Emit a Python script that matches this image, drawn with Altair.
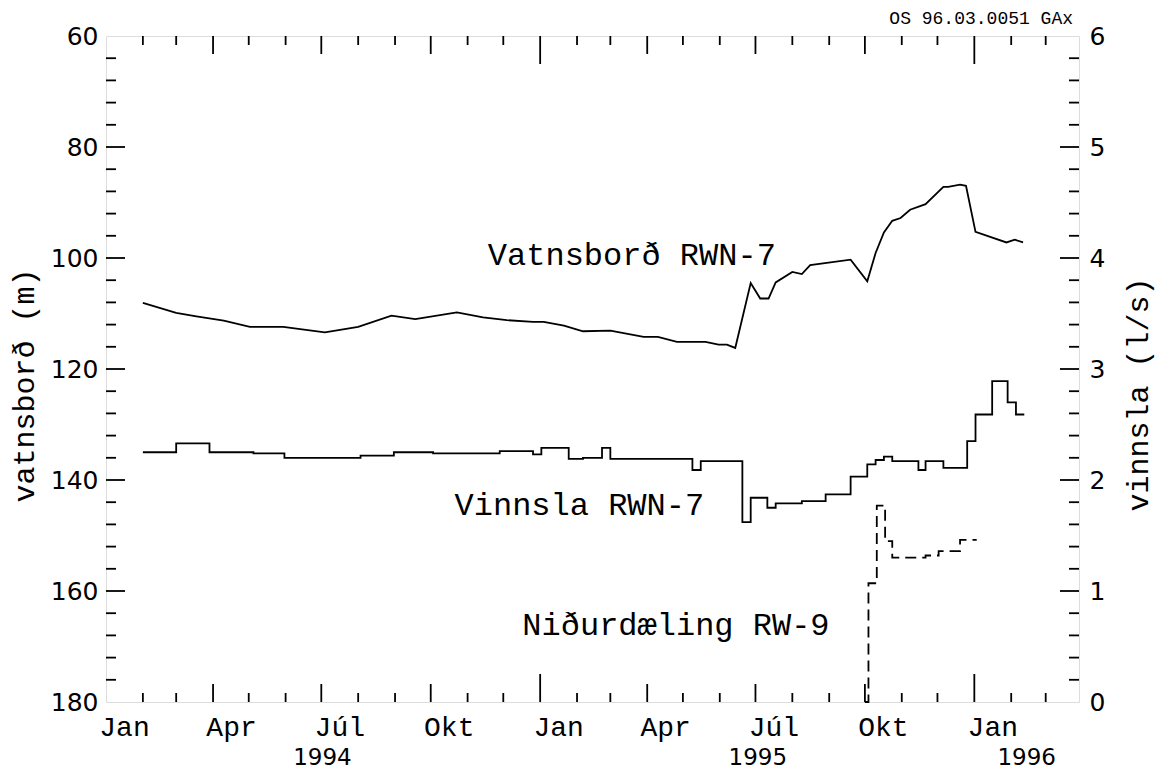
import altair as alt
import pandas as pd

# ---------------- data ----------------
# Vatnsborð RWN-7 (m, left axis)
vb_dates = ["1994-02-01", "1994-03-01", "1994-03-18", "1994-04-10", "1994-05-02", "1994-05-30",
            "1994-07-04", "1994-08-01", "1994-08-29", "1994-09-18", "1994-10-23", "1994-11-14",
            "1994-12-04", "1994-12-26", "1995-01-04", "1995-01-21", "1995-02-06", "1995-03-01",
            "1995-03-29", "1995-04-10", "1995-04-26", "1995-05-20", "1995-05-31", "1995-06-07",
            "1995-06-14", "1995-06-27", "1995-07-05", "1995-07-12", "1995-07-18", "1995-08-01",
            "1995-08-09", "1995-08-16", "1995-09-19", "1995-10-03", "1995-10-10", "1995-10-17",
            "1995-10-24", "1995-10-31", "1995-11-08", "1995-11-21", "1995-12-06", "1995-12-10",
            "1995-12-20", "1995-12-25", "1996-01-02", "1996-01-28", "1996-02-04", "1996-02-11"]
vb_values = [108.1, 109.9, 110.5, 111.3, 112.4, 112.4, 113.4, 112.4, 110.4, 111.0, 109.8, 110.7,
             111.2, 111.5, 111.5, 112.2, 113.2, 113.1, 114.2, 114.2, 115.1, 115.1, 115.6, 115.6,
             116.2, 104.5, 107.3, 107.3, 104.4, 102.5, 102.9, 101.3, 100.3, 104.2, 99.1, 95.4,
             93.3, 92.8, 91.3, 90.3, 87.2, 87.2, 86.8, 87.0, 95.3, 97.2, 96.7, 97.2]

# Vinnsla RWN-7 (l/s, right axis, steps)
vi_dates = ["1994-02-01", "1994-03-01", "1994-03-29", "1994-05-05", "1994-05-31", "1994-08-03",
            "1994-08-31", "1994-10-03", "1994-11-28", "1994-12-26", "1995-01-02", "1995-01-25",
            "1995-02-06", "1995-02-22", "1995-03-01", "1995-05-09", "1995-05-16", "1995-06-20",
            "1995-06-27", "1995-07-11", "1995-07-18", "1995-08-09", "1995-08-29", "1995-09-19",
            "1995-10-03", "1995-10-10", "1995-10-17", "1995-10-24", "1995-11-15", "1995-11-21",
            "1995-12-06", "1995-12-26", "1996-01-02", "1996-01-16", "1996-01-29", "1996-02-05",
            "1996-02-12"]
vi_values = [2.25, 2.33, 2.25, 2.24, 2.20, 2.22, 2.25, 2.24, 2.26, 2.23, 2.29, 2.19,
             2.20, 2.29, 2.19, 2.09, 2.17, 1.62, 1.84, 1.75, 1.79, 1.81, 1.87, 2.03,
             2.14, 2.18, 2.21, 2.17, 2.09, 2.17, 2.11, 2.35, 2.59, 2.89, 2.70, 2.59,
             2.59]

# Niðurdæling RW-9 (l/s, right axis, dashed steps)
nd_dates = ["1995-10-01", "1995-10-04", "1995-10-11", "1995-10-18", "1995-10-24",
            "1995-11-21", "1995-12-02", "1995-12-20", "1996-01-03"]
nd_values = [0.0, 1.07, 1.77, 1.45, 1.30, 1.32, 1.36, 1.46, 1.46]

# labels
month_names = ["Jan", "Apr", "Júl", "Okt"]
year_labels = ["1994", "1995", "1996"]
year_label_dates = ["1994-07-02", "1995-07-03", "1996-02-14"]
left_ticks = [60, 80, 100, 120, 140, 160, 180]
right_ticks = [0, 1, 2, 3, 4, 5, 6]
annot_text = ["Vatnsborð RWN-7", "Vinnsla RWN-7", "Niðurdæling RW-9"]
annot_dates = ["1994-11-18", "1994-10-21", "1994-12-17"]
annot_values = [101.3, 146.3, 167.9]
header = ["OS 96.03.0051 GAx"]

# ---------------- tables ----------------
df_vb = pd.DataFrame({"date": pd.to_datetime(vb_dates), "v": vb_values})
df_vi = pd.DataFrame({"date": pd.to_datetime(vi_dates), "w": vi_values})
df_nd = pd.DataFrame({"date": pd.to_datetime(nd_dates), "w": nd_values})
df_ann = pd.DataFrame({"date": pd.to_datetime(annot_dates), "v": annot_values, "t": annot_text})
df_year = pd.DataFrame({"date": pd.to_datetime(year_label_dates), "t": year_labels})
df_head = pd.DataFrame({"t": header})

months = pd.date_range("1994-02-01", "1996-03-01", freq="MS")
df_tick_year = pd.DataFrame({"date": [d for d in months if d.month == 1]})
df_tick_q = pd.DataFrame({"date": [d for d in months if d.month in (4, 7, 10)]})
df_tick_m = pd.DataFrame({"date": [d for d in months if d.month not in (1, 4, 7, 10)]})

df_lmaj = pd.DataFrame({"v": left_ticks[1:-1]})
df_lmin = pd.DataFrame({"v": [x for x in range(64, 180, 4) if x % 20]})
df_rmaj = pd.DataFrame({"w": right_ticks[1:-1]})
df_rmin = pd.DataFrame({"w": [round(i * 0.2, 1) for i in range(1, 30) if i % 5]})

# ---------------- layout ----------------
W, H = 973, 666
MONO = "Liberation Mono"
SANS = "DejaVu Sans"

xscale = alt.Scale(domain=[alt.DateTime(year=1994, month=1, date=1),
                           alt.DateTime(year=1996, month=3, date=29)])
quarters = [alt.DateTime(year=y, month=m, date=1)
            for y in (1994, 1995) for m in (1, 4, 7, 10)] + [alt.DateTime(year=1996, month=1, date=1)]
label_expr = "['" + "','".join(month_names) + "'][floor(month(datum.value)/3)]"
xaxis = alt.Axis(values=quarters, labelExpr=label_expr, labelOffset=18, labelPadding=33,
                 labelBaseline="alphabetic", labelFont=MONO, labelFontSize=28,
                 labelColor="black", ticks=False, tickSize=0, domain=False, grid=False,
                 labelFlush=False, labelOverlap=False, title=None)
X = alt.X("date:T", scale=xscale, axis=xaxis)

left_axis = alt.Axis(orient="left", values=left_ticks, labelFont=SANS, labelFontSize=25,
                     labelColor="black", labelPadding=8, ticks=False, tickSize=0,
                     domain=False, grid=False, labelFlush=False,
                     title="vatnsborð (m)", titleFont=MONO, titleFontSize=30,
                     titleFontWeight="normal", titleColor="black", titleAngle=270,
                     titleX=-82, titleY=349, titleAlign="center", titleBaseline="middle")
right_axis = alt.Axis(orient="right", values=right_ticks, labelFont=SANS, labelFontSize=25,
                      labelColor="black", labelPadding=10, ticks=False, tickSize=0,
                      domain=False, grid=False, labelFlush=False,
                      title="vinnsla (l/s)", titleFont=MONO, titleFontSize=30,
                      titleFontWeight="normal", titleColor="black", titleAngle=270,
                      titleX=59, titleY=358, titleAlign="center", titleBaseline="middle")

YL = alt.Y("v:Q", scale=alt.Scale(domain=[60, 180], reverse=True, nice=False, zero=False),
           axis=left_axis)
YR = alt.Y("w:Q", scale=alt.Scale(domain=[0, 6], nice=False, zero=True), axis=right_axis)

SW = 1.8

vb_line = alt.Chart(df_vb).mark_line(color="black", strokeWidth=SW).encode(x=X, y=YL)
ann = alt.Chart(df_ann).mark_text(align="left", baseline="alphabetic", font=MONO,
                                  fontSize=32, color="black").encode(x=X, y=YL, text="t:N")
years = alt.Chart(df_year).mark_text(align="center", baseline="alphabetic", font=SANS,
                                     fontSize=23, color="black").encode(
    x=X, y=alt.value(H + 63), text="t:N")
head = alt.Chart(df_head).mark_text(align="right", baseline="alphabetic", font=MONO,
                                    fontSize=18, color="black").encode(
    x=alt.value(W - 6), y=alt.value(-12), text="t:N")


def xticks(df, length):
    bottom = alt.Chart(df).mark_rule(color="black", strokeWidth=SW).encode(
        x=X, y=alt.value(H), y2=alt.value(H - length))
    top = alt.Chart(df).mark_rule(color="black", strokeWidth=SW).encode(
        x=X, y=alt.value(0), y2=alt.value(length))
    return [bottom, top]


ltick_maj = alt.Chart(df_lmaj).mark_rule(color="black", strokeWidth=SW).encode(
    y=YL, x=alt.value(0), x2=alt.value(19))
ltick_min = alt.Chart(df_lmin).mark_rule(color="black", strokeWidth=SW).encode(
    y=YL, x=alt.value(0), x2=alt.value(10))

group_left = alt.layer(vb_line, ann, years, head, ltick_maj, ltick_min,
                       *xticks(df_tick_year, 28), *xticks(df_tick_q, 18), *xticks(df_tick_m, 9))

vi_line = alt.Chart(df_vi).mark_line(color="black", strokeWidth=SW,
                                     interpolate="step-after").encode(x=X, y=YR)
nd_line = alt.Chart(df_nd).mark_line(color="black", strokeWidth=SW, interpolate="step-after",
                                     strokeDash=[11, 6]).encode(x=X, y=YR)
rtick_maj = alt.Chart(df_rmaj).mark_rule(color="black", strokeWidth=SW).encode(
    y=YR, x=alt.value(W - 19), x2=alt.value(W))
rtick_min = alt.Chart(df_rmin).mark_rule(color="black", strokeWidth=SW).encode(
    y=YR, x=alt.value(W - 10), x2=alt.value(W))

group_right = alt.layer(vi_line, nd_line, rtick_maj, rtick_min)

chart = alt.layer(group_left, group_right).resolve_scale(y="independent").properties(
    width=W, height=H,
    autosize=alt.AutoSizeParams(type="none"),
    padding={"left": 98, "top": 28, "right": 77, "bottom": 69},
).configure_view(stroke="black", strokeWidth=2).configure(background="white")

chart.save("out.html", embed_options={"renderer": "svg", "actions": False})
